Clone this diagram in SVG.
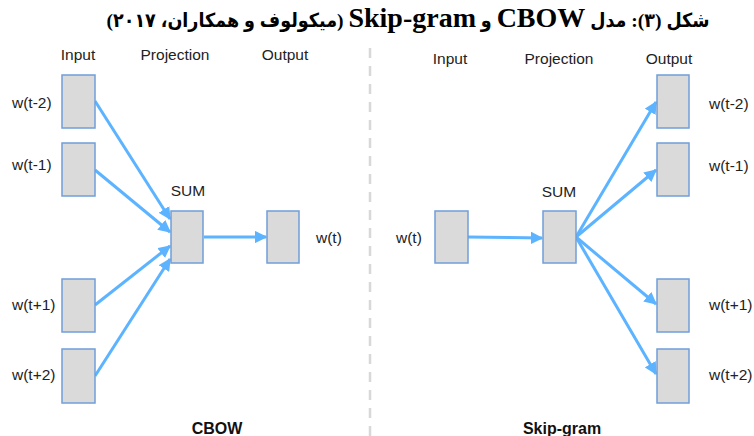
<svg xmlns="http://www.w3.org/2000/svg" width="754" height="436" viewBox="0 0 754 436">
  <defs>
    <marker id="ah" viewBox="0 0 10 10" refX="9" refY="5" markerWidth="4.2" markerHeight="4.2" markerUnits="strokeWidth" orient="auto">
      <path d="M0,0 L10,5 L0,10 Z" fill="#5cb3ff"/>
    </marker>
  </defs>
  <style>
    .box { fill: #dadada; stroke: #6f9fd8; stroke-width: 1.5; }
    .lbl { font-family: "Liberation Sans", Arial, sans-serif; font-size: 15.5px; fill: #222; }
    .hdr { font-family: "Liberation Sans", Arial, sans-serif; font-size: 15.5px; fill: #222; text-anchor: middle; }
    .cap { font-family: "Liberation Sans", Arial, sans-serif; font-size: 16px; font-weight: bold; fill: #111; text-anchor: middle; }
    .arr { stroke: #5cb3ff; stroke-width: 3; fill: none; marker-end: url(#ah); }
    .title { font-family: "Liberation Serif", "DejaVu Sans Condensed", "DejaVu Sans", serif; font-weight: bold; fill: #000; }
  </style>
  <rect width="754" height="436" fill="#fff"/>

  <!-- title -->
  <text class="title" x="408" y="27" direction="rtl" text-anchor="middle" font-size="19.5">شکل (۳): مدل <tspan font-size="28">CBOW</tspan> و <tspan font-size="28">Skip-gram</tspan> (میکولوف و همکاران، ۲۰۱۷)</text>

  <!-- divider -->
  <line x1="370" y1="48" x2="370" y2="436" stroke="#d8d8d8" stroke-width="2.5" stroke-dasharray="10,8"/>

  <!-- CBOW headers -->
  <text class="hdr" x="78" y="60">Input</text>
  <text class="hdr" x="175" y="60">Projection</text>
  <text class="hdr" x="285" y="60">Output</text>

  <!-- Skip-gram headers -->
  <text class="hdr" x="450" y="64">Input</text>
  <text class="hdr" x="559" y="64">Projection</text>
  <text class="hdr" x="669" y="64">Output</text>

  <!-- connectors -->
  <g id="connectors">
    <line class="arr" x1="95" y1="101" x2="170" y2="219"/>
    <line class="arr" x1="95" y1="170" x2="170" y2="232"/>
    <line class="arr" x1="95" y1="305" x2="170" y2="246"/>
    <line class="arr" x1="95" y1="376" x2="170" y2="259"/>
    <line class="arr" x1="204" y1="237" x2="266" y2="237"/>

    <line class="arr" x1="468" y1="237" x2="542" y2="238"/>
    <line class="arr" x1="576" y1="237" x2="656" y2="102"/>
    <line class="arr" x1="576" y1="237" x2="656" y2="170"/>
    <line class="arr" x1="576" y1="237" x2="656" y2="304"/>
    <line class="arr" x1="576" y1="237" x2="656" y2="374"/>
  </g>

  <!-- CBOW nodes -->
  <g id="cbow-in-t-2"><rect class="box" x="62" y="75" width="33" height="53"/><text class="lbl" x="12" y="108">w(t-2)</text></g>
  <g id="cbow-in-t-1"><rect class="box" x="62" y="143" width="33" height="53"/><text class="lbl" x="12" y="170">w(t-1)</text></g>
  <g id="cbow-in-t+1"><rect class="box" x="62" y="279" width="33" height="53"/><text class="lbl" x="12" y="310">w(t+1)</text></g>
  <g id="cbow-in-t+2"><rect class="box" x="62" y="349" width="33" height="54"/><text class="lbl" x="12" y="380">w(t+2)</text></g>
  <g id="cbow-sum"><rect class="box" x="171" y="211" width="32" height="52"/><text class="hdr" x="188" y="196">SUM</text></g>
  <g id="cbow-out"><rect class="box" x="267" y="211" width="32" height="52"/><text class="lbl" x="316" y="243">w(t)</text></g>
  <text class="cap" x="217" y="434">CBOW</text>

  <!-- Skip-gram nodes -->
  <g id="sg-in"><rect class="box" x="435" y="211" width="33" height="52"/><text class="lbl" x="396" y="243">w(t)</text></g>
  <g id="sg-sum"><rect class="box" x="543" y="211" width="33" height="52"/><text class="hdr" x="559" y="197">SUM</text></g>
  <g id="sg-out-t-2"><rect class="box" x="657" y="75" width="32" height="53"/><text class="lbl" x="709" y="109">w(t-2)</text></g>
  <g id="sg-out-t-1"><rect class="box" x="657" y="143" width="32" height="53"/><text class="lbl" x="709" y="171">w(t-1)</text></g>
  <g id="sg-out-t+1"><rect class="box" x="657" y="279" width="32" height="53"/><text class="lbl" x="709" y="310">w(t+1)</text></g>
  <g id="sg-out-t+2"><rect class="box" x="657" y="349" width="32" height="54"/><text class="lbl" x="709" y="380">w(t+2)</text></g>
  <text class="cap" x="562" y="434">Skip-gram</text>
</svg>
